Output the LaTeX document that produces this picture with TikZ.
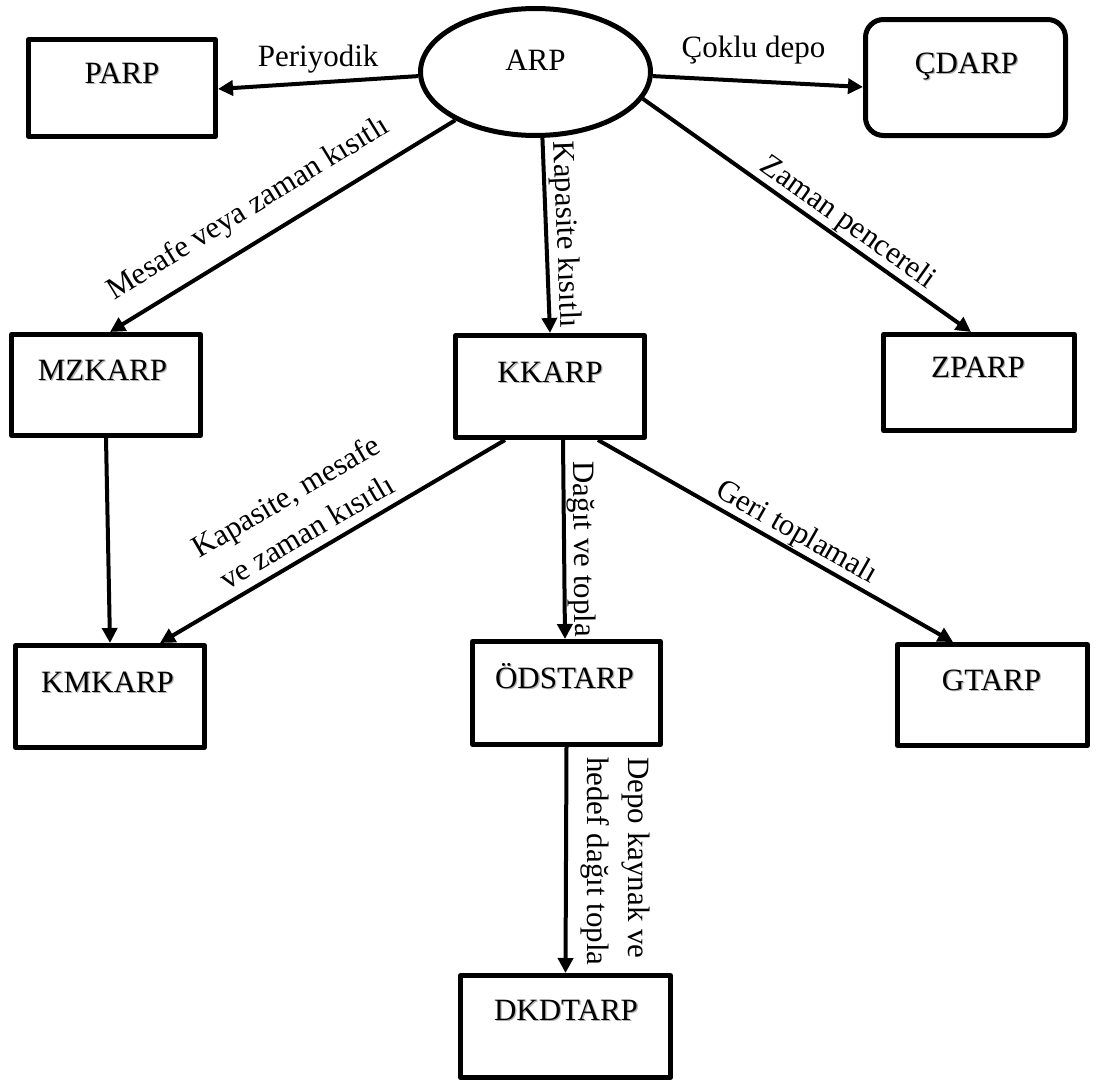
\documentclass[tikz,border=0pt]{standalone}
\usepackage{fontspec}
\setmainfont{Liberation Serif}
\usetikzlibrary{arrows.meta,calc,shapes.geometric}

% box name with a soft drop shadow
\newcommand\shadedname[1]{\makebox[0pt][l]{\kern1.3pt\raisebox{-1.3pt}{\color{black!30}#1}}#1}

\begin{document}
\begin{tikzpicture}[x=1pt,y=-1pt,
  box/.style={draw, line width=5pt, rectangle, inner sep=0pt, line join=round},
  boxtxt/.style={font=\fontsize{31}{38}\selectfont, inner sep=0pt, anchor=base},
  lbl/.style={font=\fontsize{31}{41}\selectfont, inner sep=0pt},
  arr/.style={line width=4pt, -{Triangle[length=15pt,width=15pt]}},
]
\fill[white] (0,0) rectangle (1096,1084);
\useasboundingbox (0,0) rectangle (1096,1084);

% problem classes
\node[draw, ellipse, line width=5pt, minimum width=230pt, minimum height=127pt, inner sep=0pt] (arp) at (535.5,72) {};
\node[box, minimum width=187pt, minimum height=97pt]  (parp)    at (122,88) {};
\node[box, rounded corners=18pt, minimum width=200pt, minimum height=116pt] (cdarp) at (965.5,77.5) {};
\node[box, minimum width=189pt, minimum height=101pt] (mzkarp)  at (106,385) {};
\node[box, minimum width=189pt, minimum height=102pt] (kkarp)   at (550,386.5) {};
\node[box, minimum width=191pt, minimum height=96pt]  (zparp)   at (979,382.5) {};
\node[box, minimum width=189pt, minimum height=102pt] (kmkarp)  at (110,696.5) {};
\node[box, minimum width=188pt, minimum height=103pt] (odstarp) at (566.5,693) {};
\node[box, minimum width=190pt, minimum height=101pt] (gtarp)   at (992.5,695) {};
\node[box, minimum width=210pt, minimum height=102pt] (dkdtarp) at (565.5,1026.5) {};

% names, set on the first line of each box
\node[boxtxt] (arp-t)     at ($(arp.center)+(0,-2)$)      {ARP};
\node[boxtxt] (parp-t)    at ($(parp.north)+(0,46)$)      {\shadedname{PARP}};
\node[boxtxt] (cdarp-t)   at ($(cdarp.north)+(1,56)$)     {\shadedname{ÇDARP}};
\node[boxtxt] (mzkarp-t)  at ($(mzkarp.north)+(-3.5,48)$) {\shadedname{MZKARP}};
\node[boxtxt] (kkarp-t)   at ($(kkarp.north)+(0,49)$)     {\shadedname{KKARP}};
\node[boxtxt] (zparp-t)   at ($(zparp.north)+(-1,45)$)    {\shadedname{ZPARP}};
\node[boxtxt] (kmkarp-t)  at ($(kmkarp.north)+(-2.5,49)$) {\shadedname{KMKARP}};
\node[boxtxt] (odstarp-t) at ($(odstarp.north)+(-2,49)$)  {\shadedname{ÖDSTARP}};
\node[boxtxt] (gtarp-t)   at ($(gtarp.north)+(-1,48)$)    {\shadedname{GTARP}};
\node[boxtxt] (dkdtarp-t) at ($(dkdtarp.north)+(0.5,47)$) {\shadedname{DKDTARP}};

% connectors from ARP
\draw[arr] (arp.182) -- node[lbl, pos=0.5, above=7.8pt] (l-per) {Periyodik}
  ($(parp.east)+(0,1)$);
\draw[arr] (arp.-2) -- node[lbl, pos=0.479, above=15.5pt] (l-cok) {Çoklu depo}
  ($(cdarp.west)+(0,9.5)$);
\draw[arr] (arp.211) -- node[lbl, sloped, pos=0.55, above=16pt] (l-mes) {Mesafe veya zaman kısıtlı}
  ($(mzkarp.north)+(4,0)$);
\draw[arr] (arp.-84) -- node[lbl, sloped, pos=0.5, above=2.5pt] (l-kap) {Kapasite kısıtlı}
  (kkarp.north);
\draw[arr] (arp.-14) -- node[lbl, sloped, pos=0.594, above=1pt] (l-zam) {Zaman pencereli}
  ($(zparp.north)+(-8,0)$);

% second level
\draw[arr] (mzkarp.south) -- (kmkarp.north);
\draw[arr] ($(kkarp.south)+(-45,0)$) -- node[lbl, sloped, pos=0.543, above=9pt, align=center] (l-kms)
  {Kapasite, mesafe\\ve zaman kısıtlı} ($(kmkarp.north)+(50,0)$);
\draw[arr] ($(kkarp.south)+(13,0)$) -- node[lbl, sloped, pos=0.55, above=1.5pt] (l-dt) {Dağıt ve topla}
  ($(odstarp.north)+(-1.5,0)$);
\draw[arr] ($(kkarp.south)+(48,0)$) -- node[lbl, sloped, pos=0.535, above=1pt] (l-geri) {Geri toplamalı}
  ($(gtarp.north)+(-39.5,0)$);

% third level
\draw[arr] (odstarp.south) -- (dkdtarp.north);
\node[lbl, rotate=-90, anchor=south west, align=left] (l-depo) at ($(odstarp.south)+(14.5,10)$)
  {Depo kaynak ve\\hedef dağıt topla};
\end{tikzpicture}
\end{document}
